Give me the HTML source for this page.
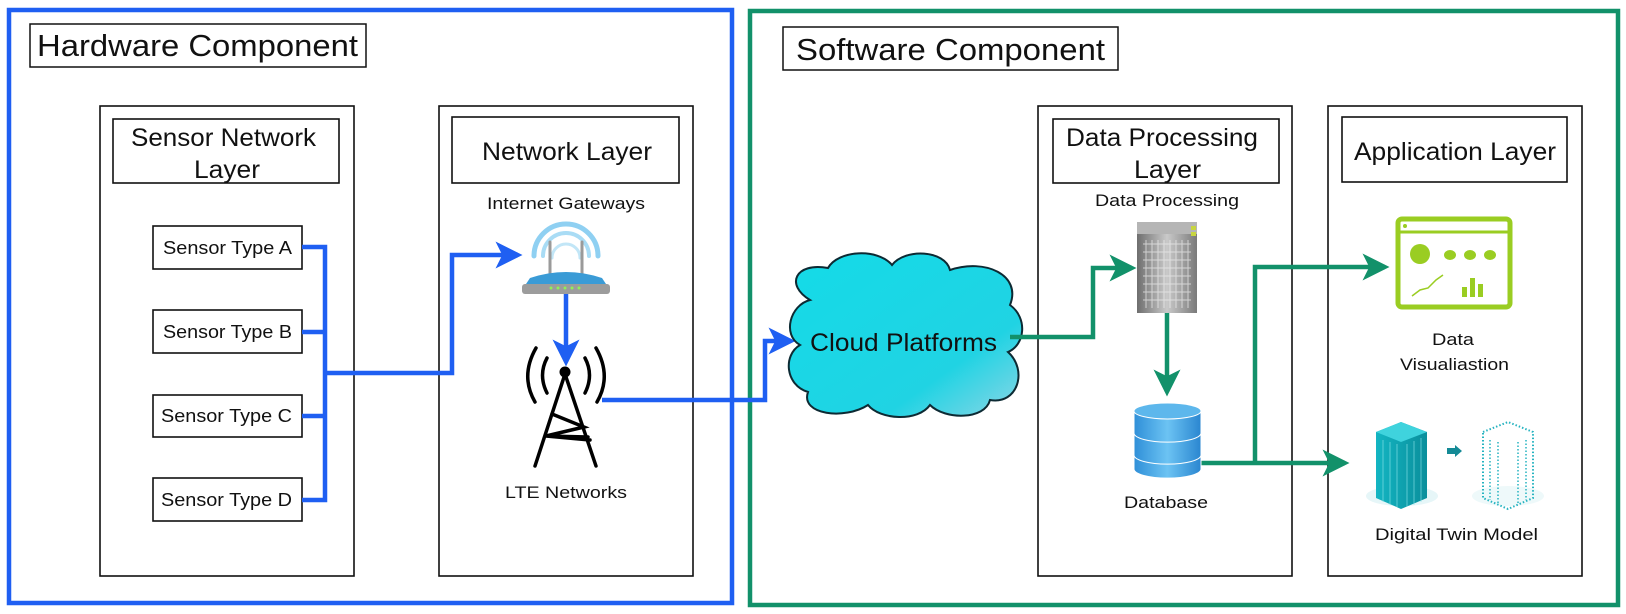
<!DOCTYPE html>
<html><head><meta charset="utf-8"><style>
html,body{margin:0;padding:0;background:#fff;}
svg{display:block;}
text{font-family:"Liberation Sans",Arial,sans-serif;fill:#111;}
</style></head><body>
<svg width="1626" height="614" viewBox="0 0 1626 614" xmlns="http://www.w3.org/2000/svg">
<defs>
<marker id="ab" markerWidth="6" markerHeight="6" refX="5" refY="3" orient="auto" markerUnits="strokeWidth"><path d="M0,0 L6,3 L0,6 L1.5,3 z" fill="#1f5ff2"/></marker>
<marker id="ag" markerWidth="6" markerHeight="6" refX="5" refY="3" orient="auto" markerUnits="strokeWidth"><path d="M0,0 L6,3 L0,6 L1.5,3 z" fill="#12916a"/></marker>
<linearGradient id="srv" x1="0" x2="1"><stop offset="0" stop-color="#6e6e6e"/><stop offset="0.5" stop-color="#c9c9c9"/><stop offset="1" stop-color="#7a7a7a"/></linearGradient>
<linearGradient id="db" x1="0" x2="1"><stop offset="0" stop-color="#2f8fd8"/><stop offset="0.5" stop-color="#6cc3f3"/><stop offset="1" stop-color="#2a86d0"/></linearGradient>
<linearGradient id="cl" x1="0" y1="0" x2="1" y2="1"><stop offset="0" stop-color="#14dbe8"/><stop offset="0.7" stop-color="#20d3e3"/><stop offset="1" stop-color="#8fd6e6"/></linearGradient>
<linearGradient id="bld" x1="0" x2="1"><stop offset="0" stop-color="#13b5c2"/><stop offset="1" stop-color="#0b8f9c"/></linearGradient>
</defs>

<!-- outer boxes -->
<rect x="9" y="10" width="723" height="593" fill="none" stroke="#1f5ff2" stroke-width="4.5"/>
<rect x="750" y="11" width="868" height="594" fill="none" stroke="#12916a" stroke-width="4.5"/>

<rect x="30" y="24" width="336" height="43" fill="#fff" stroke="#111" stroke-width="1.5"/>
<text x="37" y="56" font-size="31" textLength="321" lengthAdjust="spacingAndGlyphs">Hardware Component</text>
<rect x="783" y="27" width="335" height="43" fill="#fff" stroke="#111" stroke-width="1.5"/>
<text x="796" y="60" font-size="31" textLength="309" lengthAdjust="spacingAndGlyphs">Software Component</text>

<!-- layer boxes -->
<g fill="none" stroke="#111" stroke-width="1.6">
<rect x="100" y="106" width="254" height="470"/>
<rect x="113" y="119" width="226" height="64"/>
<rect x="439" y="106" width="254" height="470"/>
<rect x="452" y="117" width="227" height="66"/>
<rect x="1038" y="106" width="254" height="470"/>
<rect x="1053" y="119" width="226" height="64"/>
<rect x="1328" y="106" width="254" height="470"/>
<rect x="1342" y="117" width="225" height="65"/>
<rect x="153" y="226" width="149" height="43"/>
<rect x="153" y="310" width="149" height="43"/>
<rect x="153" y="395" width="149" height="42"/>
<rect x="153" y="478" width="149" height="43"/>
</g>
<text x="131" y="146" font-size="25" textLength="185" lengthAdjust="spacingAndGlyphs">Sensor Network</text>
<text x="194" y="178" font-size="25" textLength="66" lengthAdjust="spacingAndGlyphs">Layer</text>
<text x="482" y="160" font-size="25" textLength="170" lengthAdjust="spacingAndGlyphs">Network Layer</text>
<text x="1066" y="146" font-size="25" textLength="192" lengthAdjust="spacingAndGlyphs">Data Processing</text>
<text x="1134" y="178" font-size="25" textLength="67" lengthAdjust="spacingAndGlyphs">Layer</text>
<text x="1354" y="160" font-size="25" textLength="202" lengthAdjust="spacingAndGlyphs">Application Layer</text>

<g font-size="18">
<text x="163" y="254" textLength="129" lengthAdjust="spacingAndGlyphs">Sensor Type A</text>
<text x="163" y="338" textLength="129" lengthAdjust="spacingAndGlyphs">Sensor Type B</text>
<text x="161" y="422" textLength="131" lengthAdjust="spacingAndGlyphs">Sensor Type C</text>
<text x="161" y="506" textLength="131" lengthAdjust="spacingAndGlyphs">Sensor Type D</text>
</g>
<g font-size="17">
<text x="487" y="209" textLength="158" lengthAdjust="spacingAndGlyphs">Internet Gateways</text>
<text x="505" y="498" textLength="122" lengthAdjust="spacingAndGlyphs">LTE Networks</text>
<text x="1095" y="206" textLength="144" lengthAdjust="spacingAndGlyphs">Data Processing</text>
<text x="1124" y="508" textLength="84" lengthAdjust="spacingAndGlyphs">Database</text>
<text x="1432" y="345" textLength="42" lengthAdjust="spacingAndGlyphs">Data</text>
<text x="1400" y="370" textLength="109" lengthAdjust="spacingAndGlyphs">Visualiastion</text>
<text x="1375" y="540" textLength="163" lengthAdjust="spacingAndGlyphs">Digital Twin Model</text>
</g>

<!-- blue connectors -->
<g fill="none" stroke="#1f5ff2" stroke-width="4.5">
<path d="M302,247 H325 V500 H302"/>
<path d="M302,332 H325 M302,416 H325"/>
<path d="M325,373 H452 V255 H518" marker-end="url(#ab)"/>
<path d="M566,294 V362" marker-end="url(#ab)"/>
<path d="M602,400 H765 V341 H791" marker-end="url(#ab)"/>
</g>

<!-- router -->
<g fill="none" stroke-linecap="round">
<path d="M534,256 A32,32 0 0 1 598,256" stroke="#8fd0f2" stroke-width="5"/>
<path d="M543,256 A23,23 0 0 1 589,256" stroke="#a9dcf5" stroke-width="4"/>
<path d="M552,258 A14,14 0 0 1 580,258" stroke="#c2e6f7" stroke-width="3"/>
<line x1="550" y1="242" x2="550" y2="275" stroke="#9a9a9a" stroke-width="3"/>
<line x1="582" y1="242" x2="582" y2="275" stroke="#9a9a9a" stroke-width="3"/>
</g>
<path d="M530,278 Q566,266 602,278 L610,290 L522,290 Z" fill="#3a9bd6"/>
<rect x="522" y="284" width="88" height="10" rx="3" fill="#9c9c9c"/>
<g fill="#8ef05a"><circle cx="551" cy="288" r="1.5"/><circle cx="558" cy="288" r="1.5"/><circle cx="565" cy="288" r="1.5"/><circle cx="572" cy="288" r="1.5"/><circle cx="579" cy="288" r="1.5"/></g>

<!-- tower -->
<g fill="none" stroke="#000" stroke-width="3.5" stroke-linecap="round">
<path d="M536,348 Q520,376 535,402"/>
<path d="M596,348 Q612,376 597,402"/>
<path d="M547,358 Q538,375 547,393"/>
<path d="M585,358 Q594,375 585,393"/>
<path d="M565,374 L535,466 M565,374 L596,466"/>
<path d="M552,414 L584,427 L546,436 L590,440 M546,436 L588,437"/>
</g>
<circle cx="565" cy="372" r="5.5" fill="#000"/>

<!-- cloud -->
<path d="M810,300 C785,285 795,262 828,268 C838,250 878,248 892,265 C905,248 945,250 950,270 C985,258 1022,275 1010,305 C1028,318 1025,345 1008,352 C1028,370 1018,405 990,400 C985,420 945,420 930,405 C918,422 880,420 868,405 C845,420 800,415 808,392 C785,385 783,355 800,345 C782,335 790,305 810,300 Z" fill="url(#cl)" stroke="#0d2a33" stroke-width="2"/>
<text x="810" y="351" font-size="25" textLength="187" lengthAdjust="spacingAndGlyphs" fill="#0d1a33">Cloud Platforms</text>

<!-- green connectors -->
<g fill="none" stroke="#12916a" stroke-width="4.5">
<path d="M1010,337 H1093 V268 H1132" marker-end="url(#ag)"/>
<path d="M1167,313 V392" marker-end="url(#ag)"/>
<path d="M1201,463 H1345" marker-end="url(#ag)"/>
<path d="M1255,463 V267 H1385" marker-end="url(#ag)"/>
</g>

<!-- server -->
<rect x="1137" y="222" width="60" height="91" fill="url(#srv)"/>
<rect x="1137" y="222" width="60" height="12" fill="#b5b5b5"/>
<rect x="1191" y="226" width="5" height="4" fill="#c8d640"/><rect x="1191" y="232" width="5" height="4" fill="#c8d640"/>
<g stroke="#eee" stroke-width="1" opacity="0.7">
<path d="M1146,240 V308 M1152,240 V308 M1158,240 V308 M1164,240 V308 M1170,240 V308 M1176,240 V308 M1182,240 V308 M1188,240 V308"/>
<path d="M1143,244 H1191 M1143,252 H1191 M1143,260 H1191 M1143,268 H1191 M1143,276 H1191 M1143,284 H1191 M1143,292 H1191 M1143,300 H1191"/>
</g>

<!-- database -->
<g stroke="#fff" stroke-width="1">
<path d="M1134,455 v14 a33,9 0 0 0 67,0 v-14 z" fill="url(#db)"/>
<path d="M1134,433 v22 a33,9 0 0 0 67,0 v-22 z" fill="url(#db)"/>
<path d="M1134,411 v22 a33,9 0 0 0 67,0 v-22 z" fill="url(#db)"/>
<ellipse cx="1167.5" cy="411" rx="33.5" ry="8" fill="#5db7ec"/>
</g>

<!-- dashboard -->
<rect x="1398" y="219" width="112" height="88" rx="4" fill="#fff" stroke="#9acd22" stroke-width="5"/>
<line x1="1400" y1="232" x2="1508" y2="232" stroke="#9acd22" stroke-width="3"/>
<circle cx="1405" cy="226" r="2" fill="#9acd22"/>
<circle cx="1420" cy="254" r="10" fill="#9acd22"/>
<g fill="#9acd22"><ellipse cx="1450" cy="255" rx="6" ry="5"/><ellipse cx="1470" cy="255" rx="6" ry="5"/><ellipse cx="1490" cy="255" rx="6" ry="5"/>
<rect x="1462" y="287" width="5" height="10"/><rect x="1470" y="278" width="5" height="19"/><rect x="1478" y="284" width="5" height="13"/></g>
<path d="M1412,296 L1420,290 L1428,288 L1436,280 L1443,275" fill="none" stroke="#9acd22" stroke-width="1.5"/>

<!-- digital twin -->
<ellipse cx="1402" cy="496" rx="36" ry="10" fill="#e6f6f8"/>
<ellipse cx="1508" cy="496" rx="36" ry="10" fill="#eef9fa"/>
<path d="M1376,432 L1401,422 L1427,432 V498 L1401,509 L1376,498 Z" fill="url(#bld)"/>
<path d="M1376,432 L1401,422 L1427,432 L1401,442 Z" fill="#3fd3dd"/>
<g stroke="#8fe6ec" stroke-width="1" opacity="0.6"><path d="M1383,440 V502 M1390,442 V505 M1397,444 V507 M1407,444 V507 M1414,441 V505 M1421,438 V502"/></g>
<path d="M1483,432 L1508,422 L1533,432 V498 L1508,509 L1483,498 Z" fill="none" stroke="#25b3c0" stroke-width="2" stroke-dasharray="1.5 2"/>
<path d="M1490,440 V500 M1498,442 V503 M1518,442 V503 M1526,440 V500" stroke="#25b3c0" stroke-width="1.5" stroke-dasharray="1.5 2"/>
<path d="M1447,448 h8 v-3 l7,6 l-7,6 v-3 h-8 z" fill="#148a96"/>
</svg>
</body></html>
